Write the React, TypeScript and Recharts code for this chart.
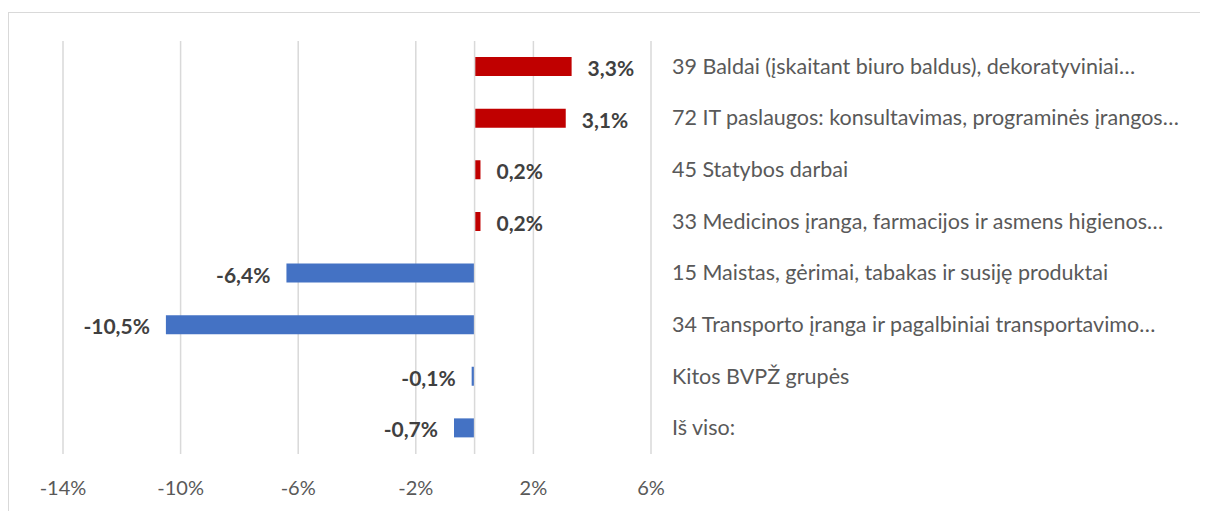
import React from 'react';
import { BarChart, Bar, XAxis, YAxis, CartesianGrid, ReferenceLine, LabelList, Cell } from 'recharts';

const categories = [
  '39 Baldai (įskaitant biuro baldus), dekoratyviniai…',
  '72 IT paslaugos: konsultavimas, programinės įrangos…',
  '45 Statybos darbai',
  '33 Medicinos įranga, farmacijos ir asmens higienos…',
  '15 Maistas, gėrimai, tabakas ir susiję produktai',
  '34 Transporto įranga ir pagalbiniai transportavimo…',
  'Kitos BVPŽ grupės',
  'Iš viso:',
];
const values = [3.3, 3.1, 0.2, 0.2, -6.4, -10.5, -0.1, -0.7];
const xTicks = [-14, -10, -6, -2, 2, 6];

const POS_COLOR = '#C00000';
const NEG_COLOR = '#4472C4';
const GRID = '#d9d9d9';
const FONT = 'Lato, "Open Sans", sans-serif';

const data = categories.map((name, i) => ({ name, value: values[i] }));

const fmt = (v: number) => `${v.toFixed(1).replace('.', ',')}%`;

const CatTick = (props: any) => {
  const { x, y, payload } = props;
  return (
    <text x={x + 21} y={y - 1} dominantBaseline="central" textAnchor="start" fill="#595959" fontSize={21.5} fontFamily={FONT}>
      {payload.value}
    </text>
  );
};

const ValueLabel = (props: any) => {
  const { x, y, width, height, value } = props;
  const v = Number(value);
  const a = Number(x);
  const b = Number(x) + Number(width);
  const cy = Number(y) + Number(height) / 2 + 1;
  if (v >= 0) {
    return (
      <text x={Math.max(a, b) + 16} y={cy} dominantBaseline="central" textAnchor="start" fill="#404040" fontSize={21} fontWeight="bold" fontFamily={FONT}>
        {fmt(v)}
      </text>
    );
  }
  return (
    <text x={Math.min(a, b) - 16} y={cy} dominantBaseline="central" textAnchor="end" fill="#404040" fontSize={21} fontWeight="bold" fontFamily={FONT}>
      {fmt(v)}
    </text>
  );
};

export default function App() {
  return (
    <div style={{ position: 'relative', top: 4, width: 1197, height: 510, border: `1px solid ${GRID}`, boxSizing: 'border-box', background: '#fff' }}>
      <BarChart
        width={1194}
        height={501}
        data={data}
        layout="vertical"
        margin={{ top: 28, right: 0, bottom: 0, left: 54 }}
        barSize={19}
      >
        <CartesianGrid horizontal={false} vertical stroke={GRID} strokeWidth={1.5} />
        <XAxis
          type="number"
          domain={[-14, 6]}
          ticks={xTicks}
          interval={0}
          allowDataOverflow
          axisLine={false}
          tickLine={false}
          height={60}
          tickMargin={21}
          tick={{ fill: '#595959', fontSize: 20, fontFamily: FONT }}
          tickFormatter={(v: number) => `${v}%`}
        />
        <YAxis
          type="category"
          dataKey="name"
          orientation="right"
          width={552}
          axisLine={false}
          tickLine={false}
          tickSize={0}
          tickMargin={0}
          interval={0}
          tick={<CatTick />}
        />
        <ReferenceLine x={0} stroke={GRID} strokeWidth={1.5} />
        <Bar dataKey="value" isAnimationActive={false}>
          {data.map((d, i) => (
            <Cell key={i} fill={d.value >= 0 ? POS_COLOR : NEG_COLOR} />
          ))}
          <LabelList dataKey="value" content={<ValueLabel />} />
        </Bar>
      </BarChart>
    </div>
  );
}
